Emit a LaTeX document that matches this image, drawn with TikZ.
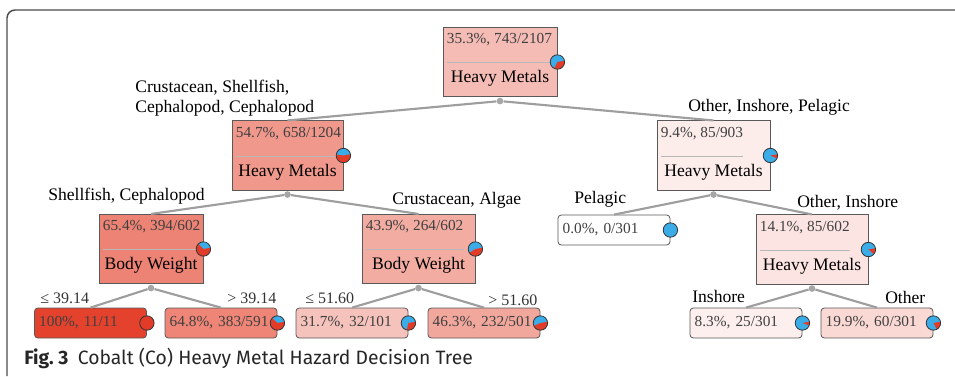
\documentclass[tikz,border=0pt]{standalone}
\usepackage{fontspec}
\setmainfont{Liberation Serif}
\newfontfamily\capfont{Fira Sans}
\usetikzlibrary{calc}

\definecolor{hot}{RGB}{228,66,44}
\definecolor{pieblue}{RGB}{58,172,232}
\definecolor{piered}{RGB}{226,60,40}

\newcommand{\statsize}{\fontsize{11.5}{13}\selectfont}
\newcommand{\attrsize}{\fontsize{13.2}{15}\selectfont}

\tikzset{
	split/.style={draw=black!65, line width=0.6pt, inner sep=0pt, minimum height=52pt},
	leaf/.style={draw=black!65, line width=0.6pt, rounded corners=2.5pt, font=\statsize, text=black!75, minimum height=22.5pt, text width=77pt, align=left, inner xsep=3.5pt, inner ysep=0pt},
	stat/.style={font=\statsize, text=black!75, inner sep=0pt, anchor=west},
	attr/.style={font=\attrsize, inner sep=0pt},
	sep/.style={draw=black!28, line width=0.6pt},
	knot/.style={circle, fill=black!35, inner sep=0pt, minimum size=5pt},
	branch/.style={draw=black!38, line width=1.6pt},
	cond/.style={font=\attrsize, inner sep=0pt, anchor=west, align=left},
	thr/.style={font=\fontsize{12}{14}\selectfont, text=black!80, inner sep=0pt, anchor=west},
	piering/.style={draw=black!80, line width=0.6pt},
	frame/.style={draw=black!70, line width=1.1pt, rounded corners=6pt}
}

% pie: position, red share in percent
\newcommand{\piechart}[2]{%
	\fill[pieblue] (#1) circle (5.4pt);
	\ifdim#2pt>0pt
	\fill[piered] (#1) -- ++(10:5.4pt) arc[start angle=10, delta angle=-3.6*#2, radius=5.4pt] -- cycle;
	\fi
	\draw[piering] (#1) circle (5.4pt);}

% split: name, x, y, percent, width, stat, attribute
\newcommand{\splitnode}[7]{%
	\node[split, minimum width=#5, fill=hot!#4!white] (#1) at (#2,#3) {};
	\node[stat] (#1-s) at ([xshift=3pt,yshift=-9.75pt]#1.north west) {#6};
	\draw[sep] ([yshift=-17pt]#1-s.west) -- ([yshift=-17pt]#1-s.east);
	\node[attr] (#1-a) at ([yshift=14pt]#1.south) {#7};
	\node[knot] (#1-k) at ([yshift=-3pt]#1.south) {};
	\piechart{#1.east}{#4}}

\begin{document}
\begin{tikzpicture}[x=0.75pt, y=-0.75pt]
		\useasboundingbox (0,0) rectangle (955,376);
		\draw[frame] (7,376) -- (7,10) -- (955,10);

		\splitnode{root}{500}{62}{35.3}{85.5pt}{35.3\%, 743/2107}{Heavy Metals}
		\splitnode{n1}{287.5}{155.5}{54.7}{83.25pt}{54.7\%, 658/1204}{Heavy Metals}
		\splitnode{n2}{713.5}{155.5}{9.4}{84.75pt}{9.4\%, 85/903}{Heavy Metals}
		\splitnode{n11}{151}{249}{65.4}{78pt}{65.4\%, 394/602}{Body Weight}
		\splitnode{n12}{418.5}{249}{43.9}{84.75pt}{43.9\%, 264/602}{Body Weight}
		\splitnode{n22}{812}{249.5}{14.1}{84pt}{14.1\%, 85/602}{Heavy Metals}

		\node[leaf, fill=white] (n21) at (614,230) {0.0\%, 0/301};
		\node[leaf, fill=hot!100!white] (l1) at (90.5,323) {100\%, 11/11};
		\node[leaf, fill=hot!64.8!white] (l2) at (221,323) {64.8\%, 383/591};
		\node[leaf, fill=hot!31.7!white] (l3) at (352,323) {31.7\%, 32/101};
		\node[leaf, fill=hot!46.3!white] (l4) at (484,323) {46.3\%, 232/501};
		\node[leaf, fill=hot!8.3!white] (l5) at (746,323) {8.3\%, 25/301};
		\node[leaf, fill=hot!19.9!white] (l6) at (877,323) {19.9\%, 60/301};
		\piechart{n21.east}{0}
		\piechart{l1.east}{100}
		\piechart{l2.east}{64.8}
		\piechart{l3.east}{31.7}
		\piechart{l4.east}{46.3}
		\piechart{l5.east}{8.3}
		\piechart{l6.east}{19.9}

		\draw[branch] (root-k) -- (n1.north);
		\draw[branch] (root-k) -- (n2.north);
		\draw[branch] (n1-k) -- (n11.north);
		\draw[branch] (n1-k) -- (n12.north);
		\draw[branch] (n2-k) -- (n21.north);
		\draw[branch] (n2-k) -- (n22.north);
		\draw[branch] (n11-k) -- (l1.north);
		\draw[branch] (n11-k) -- (l2.north);
		\draw[branch] (n12-k) -- (l3.north);
		\draw[branch] (n12-k) -- (l4.north);
		\draw[branch] (n22-k) -- (l5.north);
		\draw[branch] (n22-k) -- (l6.north);

		% branch conditions
		\node[cond] (c1) at (135,98) {Crustacean, Shellfish,\\Cephalopod, Cephalopod};
		\node[cond] (c2) at (688,107) {Other, Inshore, Pelagic};
		\node[cond] (c11) at (48,196) {Shellfish, Cephalopod};
		\node[cond] (c12) at (392,200) {Crustacean, Algae};
		\node[cond] (c21) at (574,199) {Pelagic};
		\node[cond] (c22) at (797,203) {Other, Inshore};
		\node[thr] (t1) at (40,298) {≤ 39.14};
		\node[thr] (t2) at (227,298) {> 39.14};
		\node[thr] (t3) at (305,298) {≤ 51.60};
		\node[thr] (t4) at (488,300) {> 51.60};
		\node[cond] (c5) at (692,296) {Inshore};
		\node[cond] (c6) at (885,297) {Other};

		\node[anchor=west, inner sep=0pt, font=\capfont\fontsize{14.5}{16}\selectfont, text=black!85] (caption) at (24,358) {\textbf{Fig.~3}\hspace{7pt}Cobalt (Co) Heavy Metal Hazard Decision Tree};
\end{tikzpicture}
\end{document}
